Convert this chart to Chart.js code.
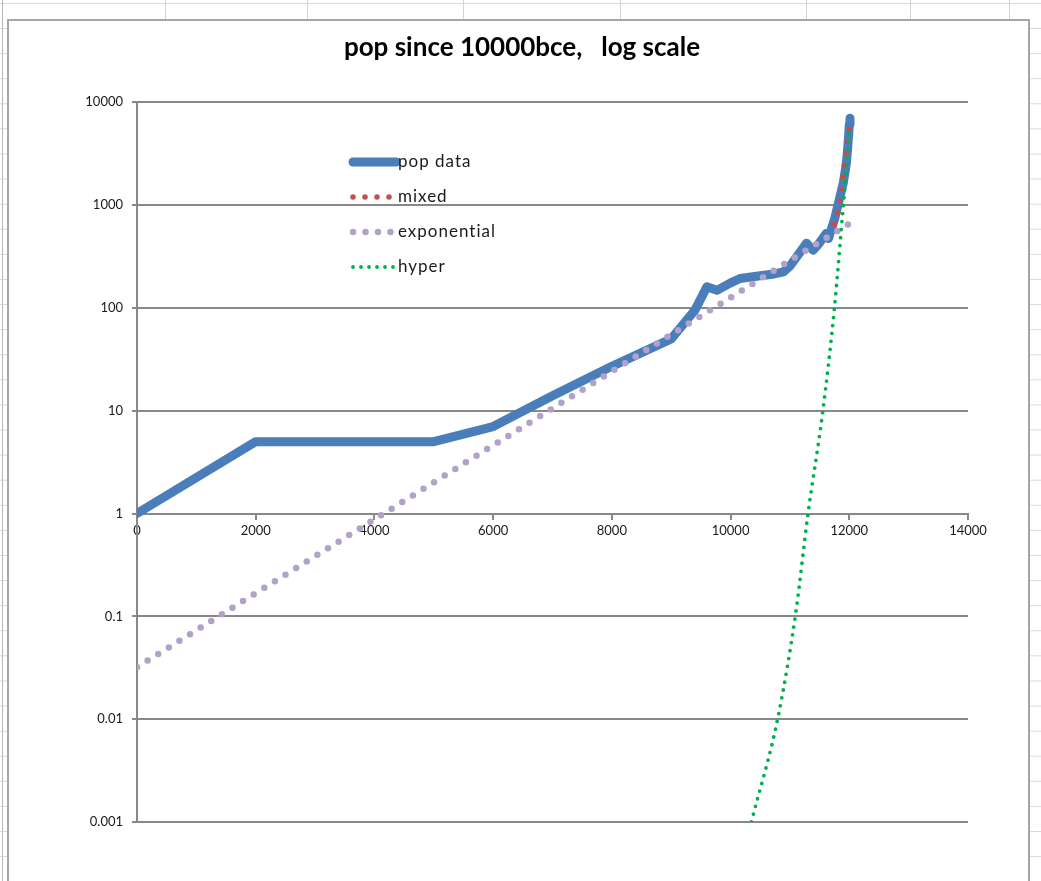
<!DOCTYPE html>
<html>
<head>
<meta charset="utf-8">
<title>pop since 10000bce, log scale</title>
<script src="https://cdn.jsdelivr.net/npm/chart.js@4.4.0/dist/chart.umd.min.js"></script>
<style>
  body {
    margin: 0;
    width: 1041px;
    height: 881px;
    overflow: hidden;
    position: relative;
    background-color: #fff;
    background-image: linear-gradient(to bottom, transparent 24px, #d9d9d9 24px);
    background-size: 100% 25.1px;
    background-position: 0 3.9px;
  }
  .col { position: absolute; top: 0; width: 1px; height: 20px; background: #d4d4d4; }
  .edge { position: absolute; left: 2px; top: 0; width: 1px; height: 881px; background: #b8b8b8; }
  #box {
    position: absolute;
    left: 7px; top: 19px;
    width: 1023px; height: 900px;
    box-sizing: border-box;
    border: 2px solid #a6a6a6;
    background: #fff;
  }
  #chart { display: block; }
</style>
</head>
<body>
<div class="edge"></div>
<div class="col" style="left:165px"></div>
<div class="col" style="left:307px"></div>
<div class="col" style="left:463px"></div>
<div class="col" style="left:620px"></div>
<div class="col" style="left:806px"></div>
<div class="col" style="left:910px"></div>
<div class="col" style="left:1009px"></div>
<div id="box"><canvas id="chart" width="1019" height="860"></canvas></div>

<script>
// pop data (x = years since 10000 bce, y = millions)
var popYears  = [0, 2000, 5000, 6000, 7000, 8000, 9000, 9400, 9600, 9770, 10000, 10160, 10500, 10700, 10890, 11000,
                 11280, 11390, 11500, 11610, 11650, 11700, 11750, 11800, 11850, 11900, 11950, 11970, 11990, 12000, 12012];
var popValues = [1, 5, 5, 7, 14, 27, 50, 95, 160, 148, 175, 193, 205, 212, 224, 255,
                 425, 363, 430, 528, 473, 590, 720, 950, 1250, 1650, 2520, 3400, 4800, 6060, 7000];

var mixedYears  = [11750, 11810, 11835, 11870, 11890, 11920, 11950, 11975, 12005];
var mixedValues = [650, 845, 1070, 1460, 1900, 2570, 3280, 4270, 5750];

var expYears  = [0, 2000, 4000, 6000, 8000, 10000, 11980];
var expValues = [0.032, 0.168, 0.877, 4.6, 24.1, 126, 650];

var hyperYears  = [10350, 10800, 11100, 11300, 11550, 11750, 11900, 11960, 12010];
var hyperValues = [0.001, 0.0105, 0.11, 0.95, 9.5, 100, 1000, 2500, 5700];

var yTicks = [0.001, 0.01, 0.1, 1, 10, 100, 1000, 10000];
var yTickLabels = ['0.001', '0.01', '0.1', '1', '10', '100', '1000', '10000'];

function pairs(xs, ys) {
    return xs.map(function (x, i) { return {x: x, y: ys[i]}; });
}

var gridGrey = '#888888';

// legend drawn inside the plot like the excel one
var insetLegend = {
    id: 'insetLegend',
    afterDatasetsDraw: function (chart) {
        var ctx = chart.ctx;
        var x0 = 344, x1 = 387, top = 141, gap = 35;
        ctx.save();
        chart.data.datasets.forEach(function (ds, i) {
            var y = top + i * gap;
            ctx.beginPath();
            ctx.strokeStyle = ds.borderColor;
            ctx.lineWidth = ds.borderWidth;
            ctx.lineCap = 'round';
            ctx.setLineDash(ds.borderDash || []);
            ctx.moveTo(x0, y);
            ctx.lineTo(x1, y);
            ctx.stroke();
            ctx.setLineDash([]);
            ctx.fillStyle = '#1a1a1a';
            ctx.font = '17px Lato';
            ctx.letterSpacing = '1px';
            ctx.textBaseline = 'middle';
            ctx.textAlign = 'left';
            ctx.fillText(ds.label, x1 + 2, y);
            ctx.letterSpacing = '0px';
        });
        ctx.restore();
    }
};

var ctx = document.getElementById('chart').getContext('2d');

var myChart = new Chart(ctx, {
    type: 'line',
    data: {
        datasets: [{
            label: 'pop data',
            data: pairs(popYears, popValues),
            borderColor: '#4a7ebb',
            borderWidth: 9,
            borderJoinStyle: 'round',
            borderCapStyle: 'round',
            pointRadius: 0,
            order: 4
        }, {
            label: 'mixed',
            data: pairs(mixedYears, mixedValues),
            borderColor: '#c0504d',
            borderWidth: 5.5,
            borderDash: [0, 12],
            borderCapStyle: 'round',
            pointRadius: 0,
            order: 3
        }, {
            label: 'exponential',
            data: pairs(expYears, expValues),
            borderColor: '#b3a2c7',
            borderWidth: 6.5,
            borderDash: [0, 12.5],
            borderCapStyle: 'round',
            pointRadius: 0,
            order: 2
        }, {
            label: 'hyper',
            data: pairs(hyperYears, hyperValues),
            borderColor: '#00b050',
            borderWidth: 3.8,
            borderDash: [0, 8],
            borderCapStyle: 'round',
            cubicInterpolationMode: 'monotone',
            pointRadius: 0,
            order: 1
        }]
    },
    options: {
        responsive: false,
        animation: false,
        devicePixelRatio: 1,
        layout: {
            padding: {left: 67, right: 60, top: 0, bottom: 59}
        },
        plugins: {
            legend: {display: false},
            tooltip: {enabled: false},
            title: {
                display: true,
                text: 'pop since 10000bce,   log scale',
                color: '#000',
                font: {family: 'Lato', size: 26, weight: 'bold', lineHeight: 1.2},
                padding: {top: 11, bottom: 39}
            }
        },
        scales: {
            x: {
                type: 'linear',
                position: {y: 1},
                min: 0,
                max: 14000,
                ticks: {
                    stepSize: 2000,
                    color: '#1a1a1a',
                    font: {family: 'Lato', size: 13},
                    padding: 4,
                    maxRotation: 0,
                    callback: function (v) { return String(v); }
                },
                grid: {
                    drawOnChartArea: false,
                    drawTicks: true,
                    tickLength: 5,
                    color: gridGrey,
                    lineWidth: 2
                },
                border: {display: true, color: gridGrey, width: 2}
            },
            y: {
                type: 'logarithmic',
                min: 0.001,
                max: 10000,
                afterBuildTicks: function (s) {
                    s.ticks = yTicks.map(function (v) { return {value: v}; });
                },
                afterFit: function (s) { s.width = 61; },
                ticks: {
                    color: '#1a1a1a',
                    font: {family: 'Lato', size: 13},
                    padding: 9,
                    callback: function (v) {
                        var i = yTicks.indexOf(v);
                        return i >= 0 ? yTickLabels[i] : '';
                    }
                },
                grid: {
                    color: gridGrey,
                    lineWidth: 2,
                    tickLength: 5
                },
                border: {display: true, color: gridGrey, width: 2}
            }
        }
    },
    plugins: [insetLegend]
});
</script>
</body>
</html>
